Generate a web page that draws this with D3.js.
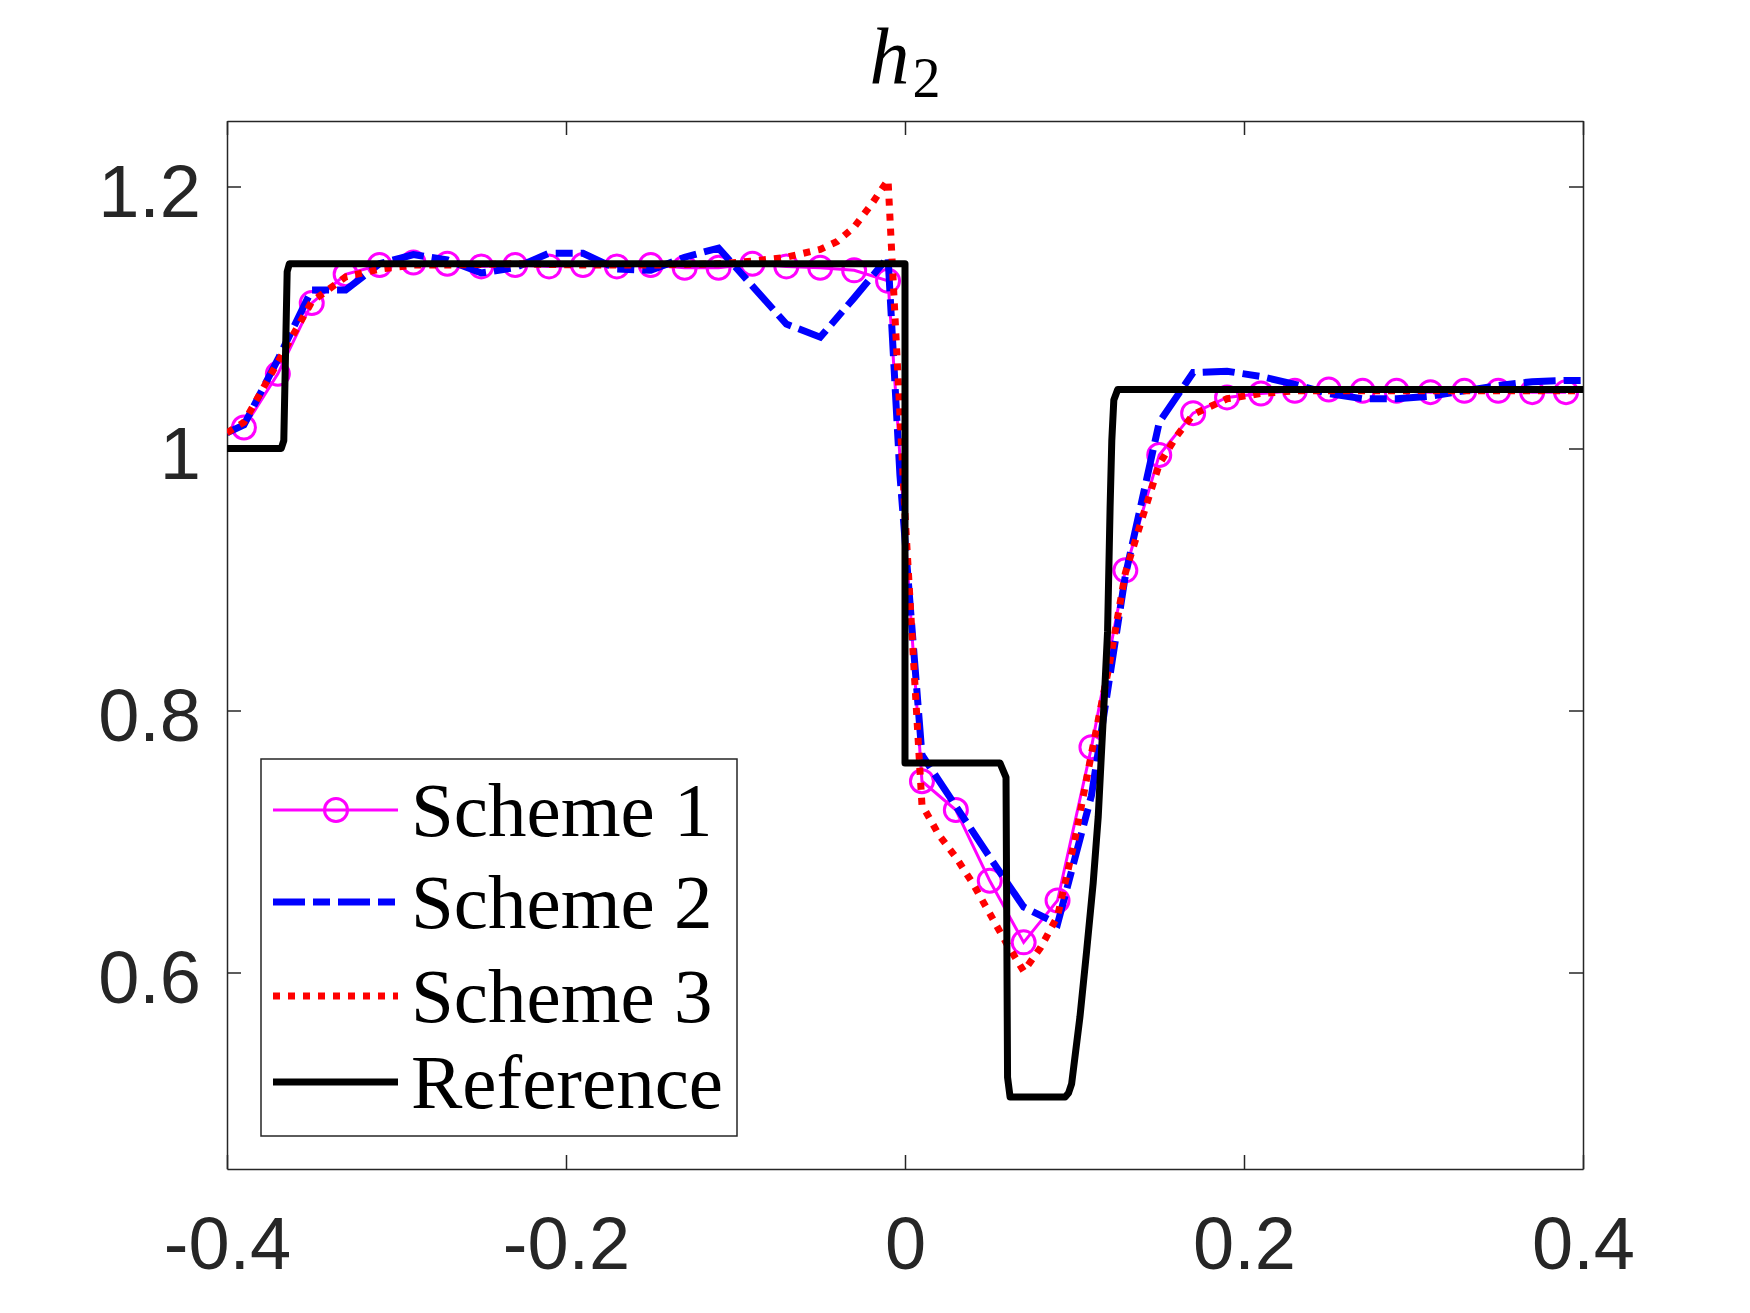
<!DOCTYPE html>
<html>
<head>
<meta charset="utf-8">
<script src="https://cdn.jsdelivr.net/npm/d3@7"></script>
<style>
  body { margin: 0; background: #fff; }
  .axis text { font-family: "Liberation Sans", Arial, sans-serif; font-size: 74px; fill: #262626; }
  .axis path, .axis line { stroke: #262626; stroke-width: 1.5; }
  .legend text { font-family: "Liberation Serif", "Times New Roman", serif; font-size: 77px; fill: #000; }
</style>
</head>
<body>
<div id="chart"></div>
<script>
// values
var s1X = [-0.39,-0.37,-0.35,-0.33,-0.31,-0.29,-0.27,-0.25,-0.23,-0.21,-0.19,-0.17,-0.15,-0.13,-0.11,-0.09,-0.07,-0.05,-0.03,-0.01,
           0.01,0.03,0.05,0.07,0.09,0.11,0.13,0.15,0.17,0.19,0.21,0.23,0.25,0.27,0.29,0.31,0.33,0.35,0.37,0.39];
var s1Y = [1.016,1.057,1.111,1.133,1.140,1.142,1.141,1.139,1.140,1.139,1.140,1.139,1.140,1.138,1.138,1.141,1.139,1.138,1.136,1.128,
           0.746,0.724,0.670,0.623,0.655,0.772,0.907,0.995,1.027,1.039,1.042,1.044,1.045,1.044,1.044,1.043,1.044,1.044,1.043,1.043];

var s2X = [-0.4,-0.39,-0.37,-0.35,-0.33,-0.31,-0.29,-0.27,-0.25,-0.23,-0.21,-0.19,-0.17,-0.15,-0.13,-0.11,-0.09,-0.07,-0.05,-0.03,-0.01,-0.003,
           0.01,0.03,0.05,0.07,0.09,0.11,0.13,0.15,0.17,0.19,0.21,0.23,0.25,0.27,0.29,0.31,0.33,0.35,0.37,0.39,0.4];
var s2Y = [1.012,1.018,1.068,1.121,1.121,1.141,1.148,1.144,1.134,1.138,1.149,1.149,1.137,1.136,1.146,1.153,1.124,1.095,1.085,1.115,1.146,0.98,
           0.766,0.727,0.688,0.650,0.637,0.735,0.903,1.020,1.058,1.059,1.055,1.049,1.042,1.038,1.038,1.040,1.044,1.048,1.051,1.052,1.052];

var s3X = [-0.4,-0.39,-0.37,-0.35,-0.33,-0.31,-0.29,-0.27,-0.23,-0.19,-0.15,-0.11,-0.09,-0.07,-0.05,-0.04,-0.03,-0.02,-0.01,0.0,
           0.01,0.02,0.03,0.04,0.05,0.06,0.07,0.08,0.09,0.10,0.11,0.12,0.13,0.14,0.15,0.16,0.17,0.19,0.21,0.23,0.27,0.31,0.35,0.4];
var s3Y = [1.012,1.020,1.066,1.112,1.131,1.137,1.140,1.140,1.141,1.140,1.140,1.141,1.143,1.146,1.152,1.158,1.169,1.186,1.205,0.950,
           0.728,0.705,0.688,0.668,0.645,0.622,0.601,0.619,0.643,0.700,0.767,0.831,0.905,0.947,0.988,1.009,1.026,1.038,1.042,1.044,1.044,1.044,1.044,1.044];

var refX = [-0.4,-0.368,-0.3665,-0.3645,-0.3632,0.0,0.0,0.056,0.0596,0.0605,0.062,0.0945,0.0965,0.0983,0.1032,0.1072,0.111,0.114,0.116,0.118,0.1195,0.121,0.122,0.1232,0.1255,0.4];
var refY = [1.0,1.0,1.006,1.135,1.141,1.141,0.760,0.760,0.749,0.52,0.505,0.505,0.508,0.515,0.566,0.617,0.668,0.719,0.770,0.820,0.860,0.955,1.006,1.037,1.045,1.045];

var xTicks = [-0.4,-0.2,0,0.2,0.4];
var xTickLabels = ["-0.4","-0.2","0","0.2","0.4"];
var yTicks = [0.6,0.8,1,1.2];
var yTickLabels = ["0.6","0.8","1","1.2"];
var legendNames = ["Scheme 1","Scheme 2","Scheme 3","Reference"];

var svgWidth = 1750, svgHeight = 1313;
var margin = {top: 121, right: 167, bottom: 144, left: 227};
var width = svgWidth - margin.left - margin.right;
var height = svgHeight - margin.top - margin.bottom;

var svg = d3.select("#chart")
  .append("svg")
  .attr("width", svgWidth)
  .attr("height", svgHeight)
  .style("display", "block");

svg.append("rect").attr("width", svgWidth).attr("height", svgHeight).attr("fill", "#fff");

var chartGroup = svg.append("g")
  .attr("transform", `translate(${margin.left}, ${margin.top})`);

var xScale = d3.scaleLinear().domain([-0.4, 0.4]).range([0, width]);
var yScale = d3.scaleLinear().domain([0.45, 1.25]).range([height, 0]);

chartGroup.append("clipPath").attr("id", "clip")
  .append("rect").attr("width", width).attr("height", height);

// axes, ticks pointing inward on all four sides
var bottomAxis = d3.axisBottom(xScale).tickValues(xTicks)
  .tickFormat((d, i) => xTickLabels[i]).tickSizeInner(-14).tickSizeOuter(0).tickPadding(47);
var leftAxis = d3.axisLeft(yScale).tickValues(yTicks)
  .tickFormat((d, i) => yTickLabels[i]).tickSizeInner(-14).tickSizeOuter(0).tickPadding(26);
var topAxis = d3.axisTop(xScale).tickValues(xTicks).tickFormat("").tickSizeInner(-14).tickSizeOuter(0);
var rightAxis = d3.axisRight(yScale).tickValues(yTicks).tickFormat("").tickSizeInner(-14).tickSizeOuter(0);

chartGroup.append("g").attr("class", "axis").attr("transform", `translate(0, ${height})`).call(bottomAxis);
var yAxis = chartGroup.append("g").attr("class", "axis").call(leftAxis);
yAxis.selectAll("text").attr("dy", "0.41em");
chartGroup.append("g").attr("class", "axis").call(topAxis);
chartGroup.append("g").attr("class", "axis").attr("transform", `translate(${width}, 0)`).call(rightAxis);

var line = d3.line().x(d => xScale(d[0])).y(d => yScale(d[1]));
var plotArea = chartGroup.append("g").attr("clip-path", "url(#clip)");

// scheme 1: magenta with circles
plotArea.append("path")
  .datum(d3.zip(s1X, s1Y))
  .attr("d", line)
  .attr("fill", "none").attr("stroke", "#ff00ff").attr("stroke-width", 3);
plotArea.selectAll(".s1dot")
  .data(d3.zip(s1X, s1Y))
  .enter().append("circle")
  .attr("class", "s1dot")
  .attr("cx", d => xScale(d[0]))
  .attr("cy", d => yScale(d[1]))
  .attr("r", 11.5)
  .attr("fill", "none").attr("stroke", "#ff00ff").attr("stroke-width", 3);

// scheme 2: blue dash-dot
plotArea.append("path")
  .datum(d3.zip(s2X, s2Y))
  .attr("d", line)
  .attr("fill", "none").attr("stroke", "#0000ff").attr("stroke-width", 7)
  .attr("stroke-dasharray", "32,8,17,8");

// scheme 3: red dotted
plotArea.append("path")
  .datum(d3.zip(s3X, s3Y))
  .attr("d", line)
  .attr("fill", "none").attr("stroke", "#ff0000").attr("stroke-width", 7)
  .attr("stroke-dasharray", "7,8");

// reference: black solid
plotArea.append("path")
  .datum(d3.zip(refX, refY))
  .attr("d", line)
  .attr("fill", "none").attr("stroke", "#000").attr("stroke-width", 7)
  .attr("stroke-linejoin", "round");

// title h_2
var title = svg.append("text")
  .attr("x", margin.left + xScale(0))
  .attr("y", 83)
  .attr("text-anchor", "middle")
  .style("font-family", "'Liberation Serif', 'Times New Roman', serif")
  .style("fill", "#000");
title.append("tspan").style("font-style", "italic").style("font-size", "80px").text("h");
title.append("tspan").attr("dx", 3).attr("dy", 14).style("font-size", "56px").text("2");

// legend
var legend = svg.append("g").attr("class", "legend");
legend.append("rect")
  .attr("x", 261).attr("y", 759).attr("width", 476).attr("height", 377)
  .attr("fill", "#fff").attr("stroke", "#262626").attr("stroke-width", 1.5);

var rowY = [810, 902, 996, 1082];
var legStyles = [
  {color: "#ff00ff", w: 3, dash: null},
  {color: "#0000ff", w: 7, dash: "32,8,17,8"},
  {color: "#ff0000", w: 7, dash: "7,8"},
  {color: "#000", w: 7, dash: null}
];
legendNames.forEach(function(name, i) {
  var st = legStyles[i];
  legend.append("line")
    .attr("x1", 273).attr("x2", 398).attr("y1", rowY[i]).attr("y2", rowY[i])
    .attr("stroke", st.color).attr("stroke-width", st.w)
    .attr("stroke-dasharray", st.dash);
  if (i === 0) {
    legend.append("circle").attr("cx", 336).attr("cy", rowY[i]).attr("r", 11.5)
      .attr("fill", "none").attr("stroke", st.color).attr("stroke-width", 3);
  }
  legend.append("text")
    .attr("x", 411).attr("y", rowY[i] + 26)
    .text(name);
});
</script>
</body>
</html>
